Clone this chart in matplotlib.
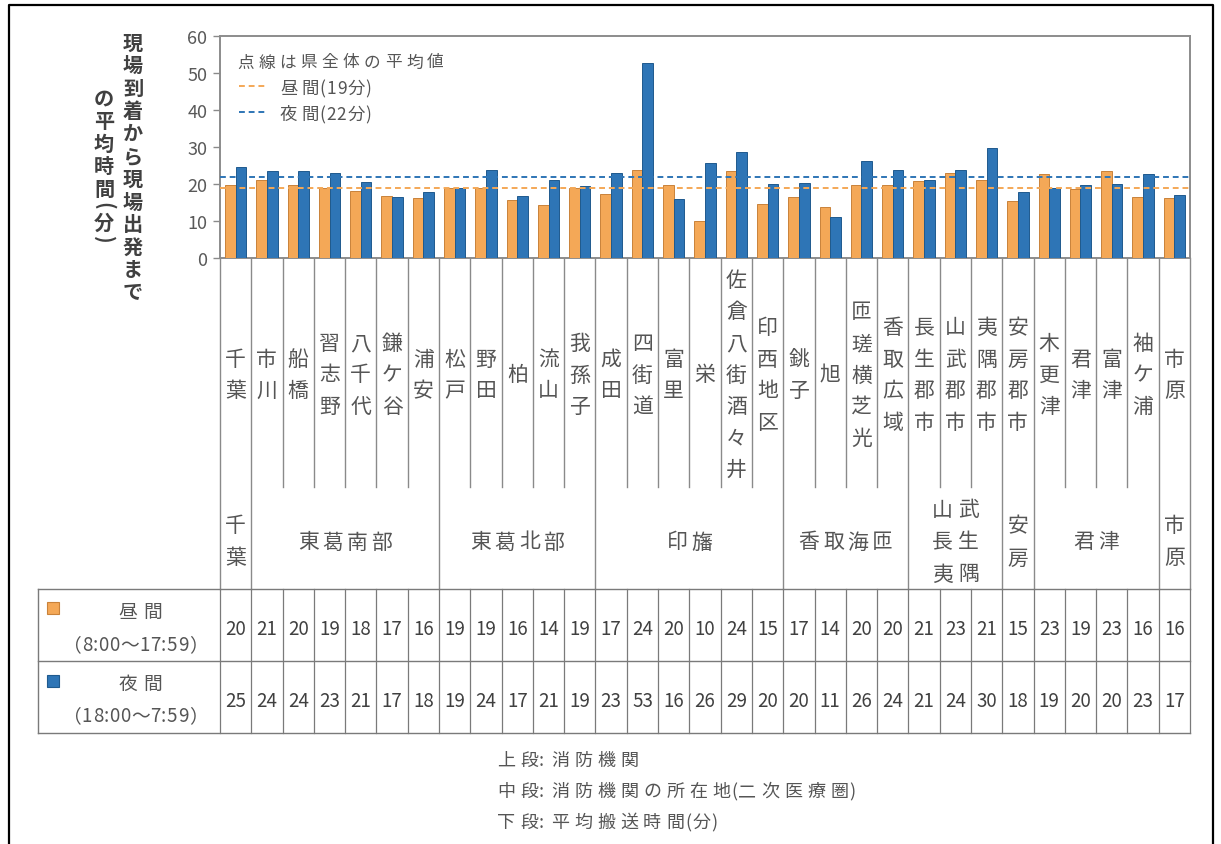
import numpy as np
import matplotlib
matplotlib.use('Agg')
import matplotlib.pyplot as plt
from matplotlib.transforms import blended_transform_factory
from matplotlib.patches import Rectangle

plt.rcParams['font.family'] = ['Noto Sans CJK JP', 'DejaVu Sans']

# ---------------- data ----------------
stations = ['千葉', '市川', '船橋', '習志野', '八千代', '鎌ケ谷', '浦安',
            '松戸', '野田', '柏', '流山', '我孫子',
            '成田', '四街道', '富里', '栄', '佐倉八街酒々井', '印西地区',
            '銚子', '旭', '匝瑳横芝光', '香取広域',
            '長生郡市', '山武郡市', '夷隅郡市',
            '安房郡市',
            '木更津', '君津', '富津', '袖ケ浦',
            '市原']
group_names = ['千葉', '東葛南部', '東葛北部', '印旛', '香取海匝',
               '山武|長生|夷隅', '安房', '君津', '市原']
group_sizes = [1, 6, 5, 6, 4, 3, 1, 4, 1]

day = [19.7, 21.2, 19.7, 19.0, 18.1, 16.7, 16.2,
       18.8, 18.8, 15.8, 14.4, 18.8,
       17.3, 23.7, 19.7, 9.9, 23.6, 14.6,
       16.6, 13.7, 19.6, 19.7,
       20.8, 23.0, 21.0,
       15.3,
       22.6, 18.7, 23.4, 16.4,
       16.2]
night = [24.6, 23.6, 23.6, 23.0, 20.6, 16.6, 17.9,
         18.9, 23.9, 16.7, 21.0, 19.4,
         23.0, 52.6, 15.9, 25.6, 28.7, 20.1,
         20.4, 11.2, 26.2, 23.9,
         21.2, 23.9, 29.6,
         17.9,
         18.8, 19.6, 20.1, 22.8,
         17.0]
day_avg = 19
night_avg = 22
yticks = [0, 10, 20, 30, 40, 50, 60]

legend_title = '点線は県全体の平均値'
day_legend = '昼間(19分)'
night_legend = '夜間(22分)'
row_day = ['昼間', '（8:00～17:59）']
row_night = ['夜間', '（18:00～7:59）']
ylabel_right = '現場到着から現場出発まで'
ylabel_left = 'の平均時間'
ylabel_unit = '分'
notes = ['上段: 消防機関', '中段: 消防機関の所在地(二次医療圏)', '下段: 平均搬送時間(分)']

# ---------------- style ----------------
ORANGE = '#F4A857'
ORANGE_E = '#C9823A'
BLUE = '#2E75B6'
BLUE_E = '#1F5A8E'
TXT = '#555555'
GRID = '#8a8a8a'
VA = 'center_baseline'

W, H = 1221, 845
fig = plt.figure(figsize=(W / 100, H / 100), dpi=100)
ov = fig.add_axes([0, 0, 1, 1])
ov.set_xlim(0, W)
ov.set_ylim(H, 0)
ov.axis('off')
renderer = fig.canvas.get_renderer()


def is_wide(ch):
    return ord(ch) >= 0x2E80


def tracked(x, y, s, extra, ha='left', **kw):
    """Place text char by char with extra spacing between wide (CJK) characters."""
    widths = []
    for ch in s:
        t = ov.text(0, 0, ch, **kw)
        widths.append(t.get_window_extent(renderer).width if ch != ' ' else 5)
        t.remove()
    gaps = []
    for a, b in zip(s[:-1], s[1:]):
        gaps.append(extra if (is_wide(a) and is_wide(b)) else extra * 0.2)
    total = sum(widths) + sum(gaps)
    x0 = x if ha == 'left' else x - total / 2
    for i, (ch, w) in enumerate(zip(s, widths)):
        if ch != ' ':
            ov.text(x0 + w / 2, y, ch, ha='center', va=VA, **kw)
        x0 += w + (gaps[i] if i < len(gaps) else 0)


L, R, T, B = 220, 1190, 37, 259
ax = fig.add_axes([L / W, 1 - B / H, (R - L) / W, (B - T) / H])
ax.set_zorder(2)
ax.patch.set_alpha(0)

n = len(stations)
x = np.arange(n)
bw = 0.34
ax.bar(x - bw / 2, day, bw, color=ORANGE, edgecolor=ORANGE_E, linewidth=0.7, zorder=3)
ax.bar(x + bw / 2, night, bw, color=BLUE, edgecolor=BLUE_E, linewidth=0.7, zorder=3)
ax.axhline(day_avg, color=ORANGE, ls=(0, (3, 2)), lw=1.4, zorder=4)
ax.axhline(night_avg, color=BLUE, ls=(0, (3, 2)), lw=1.4, zorder=4)
ax.set_xlim(-0.5, n - 0.5)
ax.set_ylim(0, 60)
ax.set_yticks(yticks)
ax.set_xticks([])
ax.tick_params(axis='y', direction='out', length=5, width=1.0, colors=GRID,
               labelcolor='#595959', labelsize=13, pad=4)
for s in ax.spines.values():
    s.set_color('#8c8c8c')
    s.set_linewidth(1.4)

# legend (manual, inside plot)
tracked(237, 61, legend_title, 4.5, fontsize=12, color=TXT, zorder=5)
ov.plot([239, 268], [87, 87], color=ORANGE, ls=(0, (3, 2)), lw=1.4, zorder=5)
tracked(280, 87, day_legend, 4, fontsize=12.5, color=TXT, zorder=5)
ov.plot([239, 268], [113, 113], color=BLUE, ls=(0, (3, 2)), lw=1.4, zorder=5)
tracked(280, 113, night_legend, 4, fontsize=12.5, color=TXT, zorder=5)

# y-axis label (vertical text)
for k, ch in enumerate(ylabel_right):
    ov.text(133, 41 + k * 22.7, ch, ha='center', va=VA, fontsize=14.5,
            fontweight='bold', color='#404040')
yy = 97
for ch in ylabel_left:
    ov.text(104, yy, ch, ha='center', va=VA, fontsize=14.5,
            fontweight='bold', color='#404040')
    yy += 22.5
ov.text(104, yy - 4, '(', ha='center', va='center', fontsize=14.5, rotation=-90,
        fontweight='bold', color='#404040')
ov.text(104, yy + 12, ylabel_unit, ha='center', va=VA, fontsize=14.5,
        fontweight='bold', color='#404040')
ov.text(104, yy + 30, ')', ha='center', va='center', fontsize=14.5, rotation=-90,
        fontweight='bold', color='#404040')

# category area
trans = blended_transform_factory(ax.transData, ov.transData)
group_bounds = {0}
acc = 0
for s in group_sizes:
    acc += s
    group_bounds.add(acc)

TOP_MID, TABLE_TOP, ROW_MID, TABLE_BOT, TABLE_L = 488, 590, 662, 734, 38
for b in range(n + 1):
    y1 = TABLE_TOP if b in group_bounds else TOP_MID
    ov.plot([b - 0.5, b - 0.5], [B, y1], transform=trans, color=GRID, lw=1.0)
    ov.plot([b - 0.5, b - 0.5], [TABLE_TOP, TABLE_BOT], transform=trans, color='#7a7a7a', lw=0.9)

FS_CAT = 15
for i, name in enumerate(stations):
    m = len(name)
    for k, ch in enumerate(name):
        ov.text(i, 373 + (k - (m - 1) / 2) * 31.5, ch, transform=trans,
                ha='center', va=VA, fontsize=FS_CAT, color=TXT)

# group labels
start = 0
for gname, gs in zip(group_names, group_sizes):
    cx = start + (gs - 1) / 2
    c_px = ax.transData.transform((cx, 0))[0]
    if '|' in gname:
        rows = gname.split('|')
        for r, row in enumerate(rows):
            yrow = 540 + (r - (len(rows) - 1) / 2) * 32
            for k, ch in enumerate(row):
                ov.text(c_px + (k - (len(row) - 1) / 2) * 26, yrow, ch,
                        ha='center', va=VA, fontsize=FS_CAT, color=TXT)
    elif gs == 1:
        m = len(gname)
        for k, ch in enumerate(gname):
            ov.text(cx, 540 + (k - (m - 1) / 2) * 32, ch, transform=trans,
                    ha='center', va=VA, fontsize=FS_CAT, color=TXT)
    else:
        m = len(gname)
        for k, ch in enumerate(gname):
            ov.text(c_px + (k - (m - 1) / 2) * 24.5, 540, ch,
                    ha='center', va=VA, fontsize=FS_CAT, color=TXT)
    start += gs

# table
for yv in [TABLE_TOP, ROW_MID, TABLE_BOT]:
    ov.plot([TABLE_L, R], [yv, yv], color='#7a7a7a', lw=1.0)
ov.plot([TABLE_L, TABLE_L], [TABLE_TOP, TABLE_BOT], color='#7a7a7a', lw=1.0)

ov.add_patch(Rectangle((47, 603), 12, 12, facecolor=ORANGE, edgecolor=ORANGE_E, lw=0.8))
ov.add_patch(Rectangle((47, 676), 12, 12, facecolor=BLUE, edgecolor=BLUE_E, lw=0.8))
tracked(140, 610, row_day[0], 6, ha='center', fontsize=13.5, color=TXT)
tracked(135, 643, row_day[1], 2.5, ha='center', fontsize=13.5, color=TXT)
tracked(140, 682, row_night[0], 6, ha='center', fontsize=13.5, color=TXT)
tracked(135, 714, row_night[1], 2.5, ha='center', fontsize=13.5, color=TXT)

for i in range(n):
    ov.text(i, 627, f'{day[i]:.0f}', transform=trans, ha='center', va=VA,
            fontsize=13.5, color='#404040')
    ov.text(i, 699, f'{night[i]:.0f}', transform=trans, ha='center', va=VA,
            fontsize=13.5, color='#404040')

# notes
for k, t in enumerate(notes):
    tracked(497, 759 + k * 31, t, 5, fontsize=13, color=TXT)

# outer frame
ov.plot([9, 9, 1213, 1213], [H + 2, 6, 6, H + 2], color='black', lw=1.6, clip_on=False)

fig.savefig('out.png', dpi=100)
